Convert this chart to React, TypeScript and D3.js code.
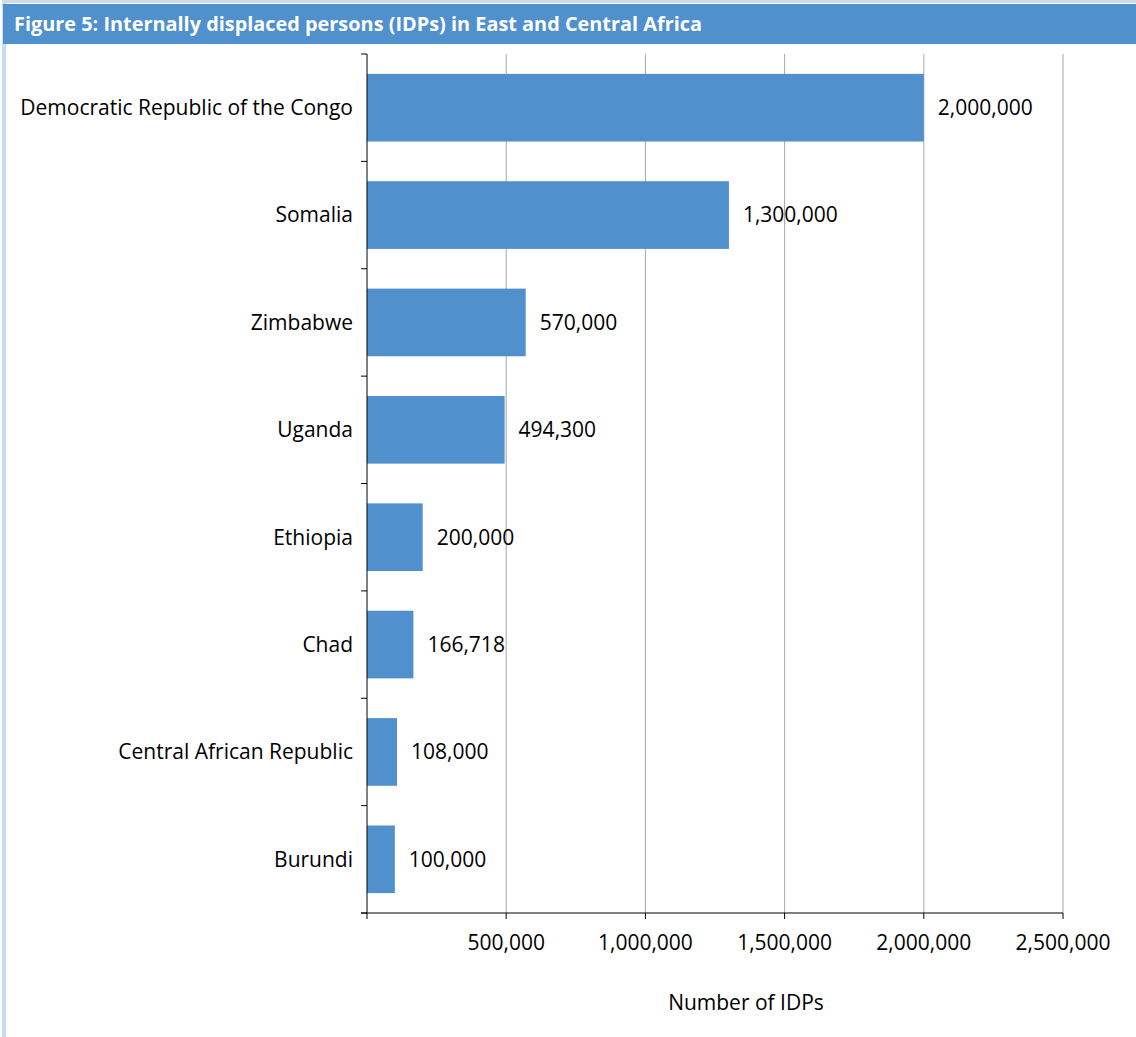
import React from "react";
import * as d3 from "d3";

const categories = [
  "Democratic Republic of the Congo",
  "Somalia",
  "Zimbabwe",
  "Uganda",
  "Ethiopia",
  "Chad",
  "Central African Republic",
  "Burundi",
];
const values = [2000000, 1300000, 570000, 494300, 200000, 166718, 108000, 100000];
const xTicks = [500000, 1000000, 1500000, 2000000, 2500000];
const title = "Figure 5: Internally displaced persons (IDPs) in East and Central Africa";
const xTitle = "Number of IDPs";

export default function App() {
  const W = 1136, H = 1037;
  const left = 367, right = 1063, top = 54, bottom = 913;
  const x = d3.scaleLinear().domain([0, 2500000]).range([left, right]);
  const y = d3.scaleBand().domain(categories).range([top, bottom]).paddingInner(0.37).paddingOuter(0.185);
  const yBand = d3.scaleBand().domain(categories).range([top, bottom]);
  const fmt = d3.format(",");
  const font = "'Open Sans', sans-serif";
  const blue = "#4F90CD";
  const fs = 21;
  return (
    <svg width={W} height={H} style={{ position: "absolute", left: 0, top: 0, background: "#fff" }}>
      <rect x={0} y={0} width={W} height={H} fill="#fff" />
      <rect x={2} y={0} width={W - 2} height={3} fill="#C9DCF0" />
      <rect x={2} y={0} width={4} height={H} fill="#C9DCF0" />
      <rect x={3} y={4} width={W - 3} height={40} fill={blue} />
      <text x={14} y={31} fill="#fff" fontFamily={font} fontWeight="bold" fontSize={19} textLength={688} lengthAdjust="spacingAndGlyphs">{title}</text>
      {xTicks.map((t) => (
        <line key={t} x1={x(t)} x2={x(t)} y1={top} y2={bottom} stroke="#A6A6A6" strokeWidth={1} />
      ))}
      {categories.map((c, i) => (
        <g key={c}>
          <rect x={x(0)} y={y(c)} width={x(values[i]) - x(0)} height={y.bandwidth()} fill={blue} />
          <text x={x(values[i]) + 14} y={(y(c) as number) + y.bandwidth() / 2} dy="0.35em" fontFamily={font} fontSize={fs} fill="#000">{fmt(values[i])}</text>
          <text x={353} y={(y(c) as number) + y.bandwidth() / 2} dy="0.35em" textAnchor="end" fontFamily={font} fontSize={fs} fill="#000">{c}</text>
        </g>
      ))}
      {[...categories.map((c) => yBand(c) as number), bottom].map((v, i) => (
        <line key={i} x1={361} x2={367} y1={v} y2={v} stroke="#000" strokeWidth={1} />
      ))}
      <line x1={left} x2={left} y1={top} y2={bottom + 6} stroke="#000" strokeWidth={1} />
      <line x1={361} x2={right} y1={bottom} y2={bottom} stroke="#000" strokeWidth={1} />
      {xTicks.map((t) => (
        <g key={t}>
          <line x1={x(t)} x2={x(t)} y1={bottom} y2={bottom + 6} stroke="#000" />
          <text x={x(t)} y={943} dy="0.35em" textAnchor="middle" fontFamily={font} fontSize={fs}>{fmt(t)}</text>
        </g>
      ))}
      <text x={746} y={1003} dy="0.35em" textAnchor="middle" fontFamily={font} fontSize={fs}>{xTitle}</text>
    </svg>
  );
}
